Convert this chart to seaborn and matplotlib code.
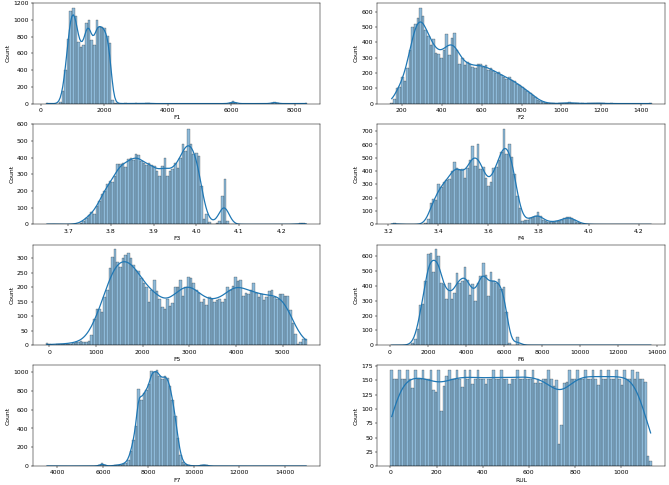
import numpy as np
import matplotlib
matplotlib.use('Agg')
import matplotlib.pyplot as plt
import seaborn as sns

# Feature names in plotting order
features = ['F1', 'F2', 'F3', 'F4', 'F5', 'F6', 'F7', 'RUL']

# Data min / max of every feature
f1_range = (160, 8400)
f2_range = (143, 1453)
f3_range = (3.6476, 4.260)
f4_range = (3.209, 4.253)
f5_range = (-77, 5527)
f6_range = (37, 13753)
f7_range = (3491, 14986)
rul_range = (0, 1133)

# Bin counts (100 bins each)
f1_counts = [2, 0, 0, 0, 0, 20, 150, 400, 770, 1110,
             1145, 1050, 730, 680, 700, 960, 1000, 760, 700, 1000,
             910, 920, 900, 810, 720, 40, 8, 3, 0, 0,
             2, 0, 0, 0, 1, 0, 0, 0, 5, 3,
             0, 0, 0, 0, 0, 0, 0, 0, 0, 0,
             0, 0, 0, 0, 0, 0, 0, 0, 0, 0,
             0, 0, 0, 0, 0, 0, 0, 0, 0, 0,
             5, 30, 12, 0, 0, 0, 0, 0, 0, 0,
             0, 0, 0, 0, 0, 0, 6, 22, 5, 0,
             0, 0, 0, 0, 0, 0, 0, 0, 0, 2]

f2_counts = [5, 30, 100, 110, 170, 150, 230, 350, 500, 520,
             560, 625, 570, 480, 440, 380, 420, 330, 320, 300,
             350, 455, 315, 425, 460, 350, 260, 300, 250, 270,
             260, 240, 235, 260, 255, 240, 250, 220, 230, 215,
             200, 205, 185, 175, 160, 170, 155, 145, 125, 120,
             110, 95, 80, 70, 55, 40, 25, 15, 8, 3,
             2, 1, 1, 0, 1, 1, 3, 6, 9, 5,
             2, 1, 0, 1, 0, 1, 1, 2, 3, 4,
             3, 1, 0, 0, 1, 0, 0, 0, 0, 0,
             0, 0, 0, 0, 0, 0, 0, 0, 0, 1]

f3_counts = [2, 1, 4, 2, 0, 0, 1, 0, 0, 1,
             2, 3, 5, 10, 20, 40, 55, 75, 60, 110,
             140, 180, 200, 240, 260, 255, 290, 360, 365, 370,
             345, 395, 400, 385, 420, 415, 380, 370, 355, 370,
             355, 350, 320, 290, 350, 400, 290, 320, 330, 370,
             340, 400, 480, 440, 575, 485, 420, 430, 410, 230,
             35, 65, 15, 5, 3, 8, 20, 170, 275, 20,
             3, 0, 0, 0, 0, 0, 0, 0, 0, 0,
             0, 0, 0, 0, 0, 0, 0, 0, 0, 0,
             0, 0, 0, 0, 0, 1, 2, 8, 6, 3]

f4_counts = [3, 8, 5, 1, 0, 0, 0, 0, 0, 0,
             0, 1, 2, 10, 40, 160, 190, 185, 300, 280,
             320, 330, 340, 400, 465, 420, 405, 415, 345, 420,
             480, 585, 440, 600, 415, 430, 350, 285, 315, 425,
             430, 480, 540, 720, 530, 600, 505, 380, 210, 120,
             25, 30, 35, 45, 55, 65, 95, 60, 35, 25,
             20, 18, 20, 22, 28, 35, 45, 55, 58, 50,
             35, 20, 10, 5, 3, 2, 0, 0, 0, 0,
             0, 0, 0, 0, 0, 0, 0, 0, 0, 0,
             0, 0, 0, 0, 0, 0, 0, 0, 0, 1]

f5_counts = [8, 3, 2, 2, 3, 4, 5, 4, 6, 5,
             8, 10, 12, 15, 12, 10, 15, 35, 90, 125,
             125, 115, 165, 190, 265, 305, 330, 285, 270, 300,
             310, 318, 300, 275, 260, 255, 230, 215, 200, 150,
             190, 223, 185, 160, 130, 125, 160, 135, 145, 200,
             200, 225, 170, 200, 235, 230, 215, 190, 180, 150,
             160, 140, 165, 160, 150, 155, 160, 150, 160, 200,
             190, 205, 235, 220, 225, 170, 180, 175, 190, 215,
             180, 165, 175, 155, 165, 185, 190, 165, 160, 175,
             175, 170, 170, 120, 75, 38, 5, 10, 20, 22]

f6_counts = [1, 0, 0, 0, 0, 1, 2, 5, 15, 40,
             110, 270, 280, 435, 615, 620, 495, 645, 600, 420,
             410, 310, 420, 310, 350, 485, 420, 435, 525, 440,
             340, 415, 300, 420, 465, 550, 475, 330, 490, 430,
             420, 445, 380, 395, 225, 15, 3, 5, 55, 5,
             1, 0, 0, 1, 0, 0, 0, 0, 0, 0,
             0, 0, 0, 0, 0, 0, 0, 0, 0, 0,
             0, 0, 0, 0, 0, 0, 0, 0, 0, 0,
             0, 0, 0, 0, 0, 0, 0, 0, 0, 0,
             0, 0, 0, 0, 0, 0, 0, 0, 0, 1]

f7_counts = [2, 0, 0, 1, 0, 0, 0, 1, 0, 0,
             0, 0, 1, 0, 0, 0, 1, 0, 1, 2,
             8, 28, 10, 3, 2, 5, 8, 12, 15, 25,
             35, 70, 160, 280, 430, 820, 700, 780, 810, 870,
             1010, 1000, 1020, 960, 930, 960, 940, 850, 700, 530,
             300, 120, 45, 18, 8, 5, 3, 2, 3, 8,
             15, 8, 3, 1, 0, 0, 1, 0, 0, 0,
             0, 0, 0, 0, 0, 1, 0, 0, 0, 0,
             0, 1, 0, 0, 0, 0, 0, 0, 0, 0,
             0, 0, 0, 0, 0, 0, 0, 0, 0, 1]

rul_counts = [168, 153, 153, 168, 153, 153, 168, 153, 136, 168,
              153, 153, 168, 153, 153, 168, 133, 130, 168, 97,
              140, 158, 168, 153, 153, 168, 153, 139, 168, 153,
              168, 143, 153, 168, 153, 153, 143, 153, 153, 168,
              153, 153, 168, 153, 153, 143, 153, 153, 168, 153,
              153, 168, 153, 153, 168, 145, 153, 145, 153, 153,
              168, 153, 140, 150, 38, 72, 145, 147, 168, 153,
              153, 168, 153, 153, 168, 153, 153, 168, 153, 142,
              168, 153, 153, 168, 153, 153, 168, 153, 142, 168,
              153, 153, 168, 153, 165, 153, 153, 148, 18, 9]

ranges = [f1_range, f2_range, f3_range, f4_range,
          f5_range, f6_range, f7_range, rul_range]
counts = [f1_counts, f2_counts, f3_counts, f4_counts,
          f5_counts, f6_counts, f7_counts, rul_counts]


# Draw one histogram + kde from binned counts
def draw_hist(ax, name, rng, cnt):
    cnt = np.asarray(cnt, dtype=float)
    edges = np.linspace(rng[0], rng[1], len(cnt) + 1)
    centers = (edges[:-1] + edges[1:]) / 2
    # bandwidth as if the kde was fit on the raw rows instead of 100 weighted points
    neff = cnt.sum() ** 2 / (cnt ** 2).sum()
    bw = (neff / cnt.sum()) ** 0.2
    sns.histplot(x=centers, weights=cnt, bins=len(cnt), binrange=rng, kde=True,
                 kde_kws={'bw_adjust': bw}, line_kws={'linewidth': 2}, ax=ax)
    ax.set_xlabel(name)
    ax.set_ylabel('Count')


fig, axes = plt.subplots(4, 2, figsize=(15, 10.875), dpi=44.6)
for ax, name, rng, cnt in zip(axes.flat, features, ranges, counts):
    draw_hist(ax, name, rng, cnt)

plt.subplots_adjust(left=0.049, right=0.994, bottom=0.039, top=0.994,
                    wspace=0.198, hspace=0.2)
plt.savefig('out.png', dpi=44.6)
plt.close()
